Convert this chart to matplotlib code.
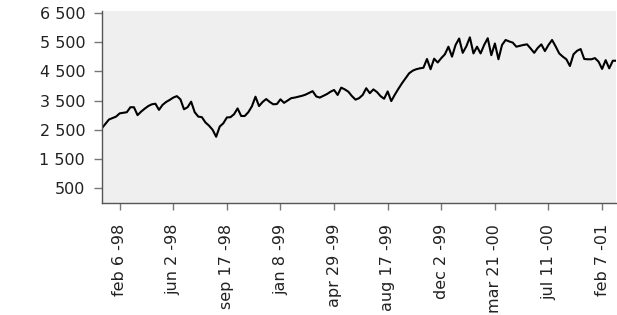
import matplotlib
matplotlib.use("Agg")
import matplotlib.pyplot as plt

# weekly index values
values = [
    2550, 2700, 2850, 2900, 2950, 3060, 3080, 3100, 3270, 3270,
    3000, 3120, 3220, 3310, 3370, 3390, 3180, 3350, 3450, 3520,
    3600, 3650, 3540, 3200, 3270, 3460, 3100, 2950, 2930, 2750,
    2640, 2500, 2260, 2610, 2720, 2920, 2930, 3030, 3230, 2970,
    2970, 3100, 3300, 3630, 3310, 3450, 3550, 3450, 3370, 3380,
    3540, 3420, 3500, 3580, 3600, 3630, 3660, 3700, 3760, 3820,
    3640, 3600, 3660, 3720, 3800, 3860, 3690, 3940, 3880, 3800,
    3650, 3530, 3580, 3690, 3920, 3750, 3880, 3790, 3650, 3560,
    3810, 3480, 3700, 3900, 4090, 4260, 4430, 4520, 4570, 4600,
    4620, 4920, 4570, 4930, 4800, 4950, 5080, 5340, 5000, 5400,
    5620, 5130, 5350, 5660, 5110, 5340, 5110, 5400, 5630, 5050,
    5450, 4910, 5400, 5570, 5520, 5480, 5340, 5370, 5400, 5420,
    5280, 5130, 5300, 5420, 5190, 5400, 5570, 5350, 5110, 5000,
    4910, 4680, 5080, 5200, 5260, 4920, 4910, 4910, 4950, 4830,
    4580, 4880, 4600, 4860, 4860,
]

# tick labels sit on every 15th observation, starting at the 6th
tick_idx = [5, 20, 35, 50, 65, 80, 95, 110, 125, 140]
tick_labels = ["feb 6 -98", "jun 2 -98", "sep 17 -98", "jan 8 -99", "apr 29 -99",
               "aug 17 -99", "dec 2 -99", "mar 21 -00", "jul 11 -00", "feb 7 -01"]

y_ticks = [500, 1500, 2500, 3500, 4500, 5500, 6500]
y_labels = ["500", "1 500", "2 500", "3 500", "4 500", "5 500", "6 500"]

plt.rcParams["font.family"] = ["DejaVu Sans"]

fig = plt.figure(figsize=(6.17, 3.15), dpi=100)
ax = fig.add_axes([0.165, 0.356, 0.834, 0.609])
ax.set_facecolor("#efefef")

ax.plot(range(len(values)), values, color="black", lw=1.5)

ax.set_xlim(0, len(values) - 1)
ax.set_ylim(0, 6560)

ax.set_xticks(tick_idx)
ax.set_xticklabels(tick_labels, rotation=90, fontsize=11.5, color="#222222")
ax.set_yticks(y_ticks)
ax.set_yticklabels(y_labels, fontsize=11.5, color="#222222")

for s in ["top", "right"]:
    ax.spines[s].set_visible(False)
for s in ["left", "bottom"]:
    ax.spines[s].set_color("#555555")
    ax.spines[s].set_linewidth(1.0)

ax.tick_params(axis="y", length=6, width=1, color="#777777", pad=6)
ax.tick_params(axis="x", length=5, width=1, color="#777777", pad=10)

fig.savefig("out.png", dpi=100)
